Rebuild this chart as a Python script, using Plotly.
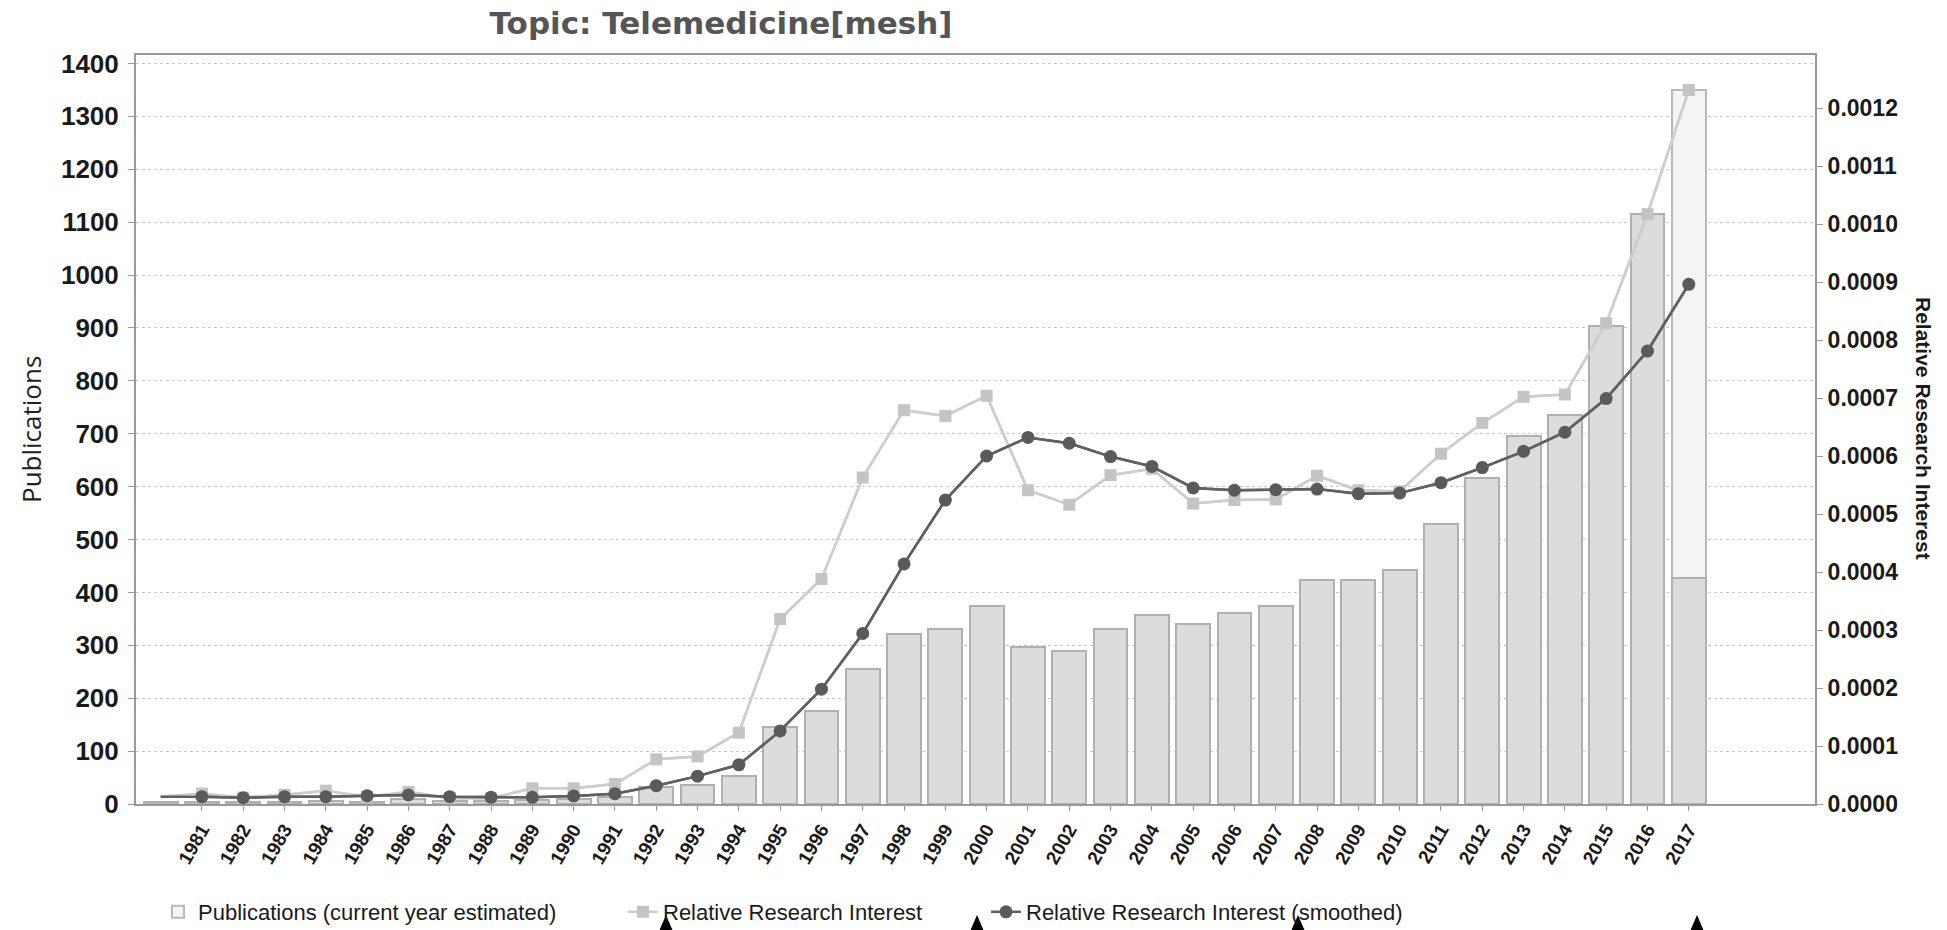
import plotly.graph_objects as go

# ---------------- data ----------------
years = list(range(1980, 2018))
publications = [3, 3, 4, 4, 5, 4, 9, 5, 6, 8, 10, 14,
                32, 36, 53, 145, 176, 255, 321, 331, 375, 296, 290, 331,
                357, 340, 362, 375, 423, 423, 442, 529, 617, 696, 736, 904,
                1115, 428]
estimated_year = [2017]
estimated_publications = [1349]

# relative research interest (values in 1e-4 units)
rri = [0.13, 0.18, 0.11, 0.16, 0.23, 0.12, 0.21, 0.10, 0.10, 0.27, 0.27, 0.345,
       0.77, 0.82, 1.23, 3.19, 3.88, 5.63, 6.79, 6.69, 7.04, 5.41, 5.16, 5.67,
       5.78, 5.18, 5.24, 5.25, 5.66, 5.41, 5.39, 6.04, 6.57, 7.02, 7.06, 8.29,
       10.17, 12.31]
rri_smoothed = [0.126, 0.126, 0.109, 0.126, 0.126, 0.144, 0.155, 0.126, 0.115, 0.115, 0.14, 0.178,
                0.316, 0.48, 0.676, 1.26, 1.98, 2.94, 4.14, 5.24, 6.00, 6.32, 6.22, 5.99,
                5.82, 5.45, 5.41, 5.42, 5.43, 5.35, 5.36, 5.54, 5.80, 6.08, 6.41, 6.99,
                7.81, 8.96]

tick_years = list(range(1981, 2018))
tick_labels = [str(y) for y in tick_years]
left_ticks = list(range(0, 1401, 100))
right_ticks = [i / 10000 for i in range(0, 13)]
right_labels = ["%.4f" % v for v in right_ticks]

rri_vals = [v * 1e-4 for v in rri]
rri_s_vals = [v * 1e-4 for v in rri_smoothed]

# ---------------- figure ----------------
W, H = 1947, 930
ML, MR, MT, MB = 136, 132, 55, 126
pw = W - ML - MR
ph = H - MT - MB


def px_x(px):
    return (px - ML) / pw


def px_y(py):
    return (H - MB - py) / ph


fig = go.Figure()

fig.add_trace(go.Bar(
    x=estimated_year, y=estimated_publications,
    name="Publications (current year estimated)",
    width=0.82, legend="legend",
    marker=dict(color="#f4f4f4", line=dict(color="#b8b8b8", width=2)),
))
fig.add_trace(go.Bar(
    x=years, y=publications, showlegend=False, name="Publications",
    width=0.82,
    marker=dict(color="#dcdcdc", line=dict(color="#b0b0b0", width=2)),
))

# lines including the first year (no marker), then markers from 1981
fig.add_trace(go.Scatter(
    x=years, y=rri_vals, yaxis="y2", mode="lines", showlegend=False,
    line=dict(color="#cdcdcd", width=2.5), hoverinfo="skip",
))
fig.add_trace(go.Scatter(
    x=years[1:], y=rri_vals[1:], yaxis="y2", mode="lines+markers",
    name="Relative Research Interest", legend="legend2",
    line=dict(color="#cdcdcd", width=2.5),
    marker=dict(symbol="square", size=12, color="#c4c4c4"),
))
fig.add_trace(go.Scatter(
    x=years, y=rri_s_vals, yaxis="y2", mode="lines", showlegend=False,
    line=dict(color="#606060", width=2.5), hoverinfo="skip",
))
fig.add_trace(go.Scatter(
    x=years[1:], y=rri_s_vals[1:], yaxis="y2", mode="lines+markers",
    name="Relative Research Interest (smoothed)", legend="legend3",
    line=dict(color="#606060", width=2.5),
    marker=dict(symbol="circle", size=13, color="#5a5a5a"),
))

axis_line = "#999999"
sans = "Liberation Sans, Arial, sans-serif"
legend_font = dict(family=sans, size=22, color="#1a1a1a")


def legend_at(text_left_px):
    return dict(
        orientation="h",
        x=px_x(text_left_px - 41), xanchor="left",
        y=px_y(891), yanchor="top",
        font=legend_font,
        bgcolor="rgba(0,0,0,0)",
    )


fig.update_layout(
    width=W, height=H,
    margin=dict(l=ML, r=MR, t=MT, b=MB, autoexpand=False),
    paper_bgcolor="white", plot_bgcolor="white",
    barmode="overlay",
    bargap=0,
    title=dict(
        text="Topic: Telemedicine[mesh]",
        x=721 / W, xref="container", xanchor="center",
        y=1 - 23 / H, yref="container", yanchor="middle",
        font=dict(family="DejaVu Sans, sans-serif", size=31, color="#555555", weight="bold"),
    ),
    xaxis=dict(
        range=[1979.404, 2020.056],
        tickmode="array", tickvals=tick_years, ticktext=tick_labels,
        tickangle=-60,
        tickfont=dict(family=sans, size=19, color="#1a1a1a", weight="bold"),
        showgrid=False, zeroline=False,
        showline=True, linecolor=axis_line, linewidth=2, mirror=True,
        ticks="outside", ticklen=5, tickcolor=axis_line,
    ),
    yaxis=dict(
        range=[0, 1416],
        tickmode="array", tickvals=left_ticks,
        tickfont=dict(family=sans, size=26, color="#1a1a1a", weight="bold"),
        showgrid=True, gridcolor="#c8c8c8", griddash="dot", gridwidth=1,
        zeroline=False,
        showline=True, linecolor=axis_line, linewidth=2,
        ticks="outside", ticklen=6, tickcolor=axis_line,
        ticklabelstandoff=4,
    ),
    yaxis2=dict(
        range=[0, 0.0012914],
        overlaying="y", side="right",
        tickmode="array", tickvals=right_ticks, ticktext=right_labels,
        tickfont=dict(family=sans, size=23, color="#1a1a1a", weight="bold"),
        showgrid=False, zeroline=False,
        showline=True, linecolor=axis_line, linewidth=2,
        ticks="outside", ticklen=6, tickcolor=axis_line,
    ),
    legend=legend_at(199),
    legend2=legend_at(664),
    legend3=legend_at(1027),
    annotations=[
        dict(
            text="Publications",
            xref="paper", yref="paper",
            x=px_x(31), y=px_y(430),
            xanchor="center", yanchor="middle",
            textangle=-90, showarrow=False,
            font=dict(family="Open Sans, sans-serif", size=26, color="#222222"),
        ),
        dict(
            text="Relative Research Interest",
            xref="paper", yref="paper",
            x=px_x(1924), y=px_y(428),
            xanchor="center", yanchor="middle",
            textangle=90, showarrow=False,
            font=dict(family=sans, size=21, color="#1a1a1a", weight="bold"),
        ),
    ],
)

# small black pointer triangles at the bottom edge of the picture
shapes = []
for px in [666, 977, 1298, 1697]:
    x0 = px_x(px)
    dx = 9 / pw
    ya = px_y(915)
    yb = px_y(936)
    shapes.append(dict(type="path", xref="paper", yref="paper",
                       path=f"M {x0},{ya} L {x0 - dx},{yb} L {x0 + dx},{yb} Z",
                       fillcolor="black", line=dict(width=0), layer="above"))
fig.update_layout(shapes=shapes)

fig.write_html(
    "out.html",
    config={"displayModeBar": False},
    post_script="document.body.style.margin='0';document.body.style.padding='0';",
)
